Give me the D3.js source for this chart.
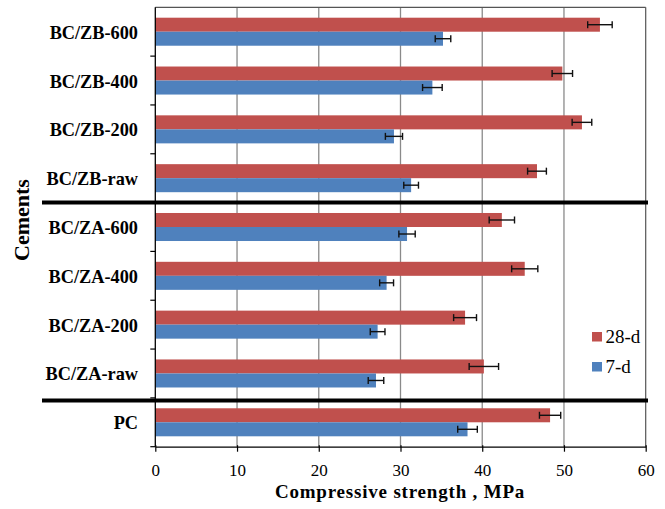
<!DOCTYPE html>
<html>
<head>
<meta charset="utf-8">
<script src="https://cdn.jsdelivr.net/npm/d3@7"></script>
<style>
  html, body { margin: 0; padding: 0; background: #fff; }
  svg { display: block; }
  text { font-family: "Liberation Serif", "Times New Roman", serif; }
</style>
</head>
<body>
<svg id="chart" width="665" height="509"></svg>
<script>
// ---- data ----
const categories = ["BC/ZB-600", "BC/ZB-400", "BC/ZB-200", "BC/ZB-raw",
                    "BC/ZA-600", "BC/ZA-400", "BC/ZA-200", "BC/ZA-raw", "PC"];
const series = ["28-d", "7-d"];
const values28d = [54.4, 49.8, 52.2, 46.7, 42.4, 45.2, 37.9, 40.2, 48.3];
const errors28d = [1.5, 1.25, 1.2, 1.15, 1.55, 1.6, 1.4, 1.8, 1.3];
const values7d  = [35.2, 33.9, 29.2, 31.3, 30.8, 28.3, 27.2, 27.0, 38.2];
const errors7d  = [0.95, 1.2, 1.05, 0.9, 1.0, 0.85, 0.9, 0.95, 1.2];
const xTicks = [0, 10, 20, 30, 40, 50, 60];
const separatorsAfter = ["BC/ZB-raw", "BC/ZA-raw"];

const colors = { "28-d": "#C0504D", "7-d": "#4F81BD" };

// ---- layout ----
const svg = d3.select("#chart");
const L = 155.3, R = 645.7, T = 7.3, B = 446.7;

const x = d3.scaleLinear().domain([0, 60]).range([L, R]);
const y = d3.scaleBand().domain(categories).range([T, B])
  .paddingInner(0.426).paddingOuter(0.213);
const ySub = d3.scaleBand().domain(series).range([0, y.bandwidth()]);

const rows = categories.map((c, i) => ({
  cat: c,
  bars: [
    { s: "28-d", v: values28d[i], e: errors28d[i] },
    { s: "7-d",  v: values7d[i],  e: errors7d[i] }
  ]
}));

// gridlines
svg.append("g").selectAll("line").data(xTicks.filter(d => d > 0 && d < 60)).join("line")
  .attr("x1", d => x(d)).attr("x2", d => x(d))
  .attr("y1", T).attr("y2", B)
  .attr("stroke", "#8a8a8a").attr("stroke-width", 1.3);

// plot border top/right
svg.append("line").attr("x1", L).attr("x2", R).attr("y1", T).attr("y2", T)
  .attr("stroke", "#555").attr("stroke-width", 1.2);
svg.append("line").attr("x1", R).attr("x2", R).attr("y1", T).attr("y2", B)
  .attr("stroke", "#555").attr("stroke-width", 1.2);

// bars
const g = svg.append("g").selectAll("g").data(rows).join("g")
  .attr("transform", d => `translate(0,${y(d.cat)})`);

g.selectAll("rect").data(d => d.bars).join("rect")
  .attr("x", x(0))
  .attr("y", d => ySub(d.s))
  .attr("width", d => x(d.v) - x(0))
  .attr("height", ySub.bandwidth())
  .attr("fill", d => colors[d.s]);

// error bars
const eb = g.selectAll("g.err").data(d => d.bars).join("g").attr("class", "err")
  .attr("transform", d => `translate(0,${ySub(d.s) + ySub.bandwidth() / 2})`);
eb.append("line")
  .attr("x1", d => x(d.v - d.e)).attr("x2", d => x(d.v + d.e))
  .attr("y1", 0).attr("y2", 0)
  .attr("stroke", "#111").attr("stroke-width", 1.4);
eb.append("line")
  .attr("x1", d => x(d.v - d.e)).attr("x2", d => x(d.v - d.e))
  .attr("y1", -3.5).attr("y2", 3.5)
  .attr("stroke", "#111").attr("stroke-width", 1.4);
eb.append("line")
  .attr("x1", d => x(d.v + d.e)).attr("x2", d => x(d.v + d.e))
  .attr("y1", -3.5).attr("y2", 3.5)
  .attr("stroke", "#111").attr("stroke-width", 1.4);

// x axis
const xAxis = svg.append("g").attr("transform", `translate(0,${B})`)
  .call(d3.axisBottom(x).tickValues(xTicks).tickSize(5).tickPadding(12).tickSizeOuter(0));
xAxis.attr("font-family", null);
xAxis.select(".domain").attr("stroke", "#000").attr("stroke-width", 1.3);
xAxis.selectAll(".tick line").attr("stroke", "#000").attr("stroke-width", 1.2).attr("y1", -1.5);
xAxis.selectAll(".tick text").attr("font-size", 17).attr("fill", "#000");

// y axis (category) line
svg.append("line").attr("x1", L).attr("x2", L).attr("y1", T).attr("y2", B)
  .attr("stroke", "#000").attr("stroke-width", 1.3);

// category boundary ticks
const step = y.step();
const boundaries = d3.range(1, categories.length + 1).map(i => T + i * step);
svg.append("g").selectAll("line").data(boundaries).join("line")
  .attr("x1", L - 5).attr("x2", L)
  .attr("y1", d => d).attr("y2", d => d)
  .attr("stroke", "#000").attr("stroke-width", 1.2);

// category labels
svg.append("g").selectAll("text").data(categories).join("text")
  .attr("x", 138)
  .attr("y", d => y(d) + y.bandwidth() / 2 + 7)
  .attr("text-anchor", "end")
  .attr("font-size", 18.3).attr("font-weight", "bold").attr("fill", "#000")
  .text(d => d);

// thick separators
svg.append("g").selectAll("line").data(separatorsAfter).join("line")
  .attr("x1", 42).attr("x2", 648)
  .attr("y1", (d, i) => y(d) + y.bandwidth() + step * 0.213 + (i === 1 ? 2.5 : 0))
  .attr("y2", (d, i) => y(d) + y.bandwidth() + step * 0.213 + (i === 1 ? 2.5 : 0))
  .attr("stroke", "#000").attr("stroke-width", 4);

// axis titles
svg.append("text").attr("x", 400).attr("y", 498)
  .attr("text-anchor", "middle").attr("font-size", 19).attr("font-weight", "bold")
  .attr("letter-spacing", 0.8)
  .text("Compressive strength , MPa");
svg.append("text").attr("transform", "translate(29,220) rotate(-90)")
  .attr("text-anchor", "middle").attr("font-size", 22).attr("font-weight", "bold")
  .text("Cements");

// legend
const leg = svg.append("g").selectAll("g").data(series).join("g")
  .attr("transform", (d, i) => `translate(592,${332 + i * 30})`);
leg.append("rect").attr("width", 10).attr("height", 9.5).attr("fill", d => colors[d]);
leg.append("text").attr("x", 13.5).attr("y", 10.8)
  .attr("font-size", 19).attr("fill", "#000").text(d => d);
</script>
</body>
</html>
